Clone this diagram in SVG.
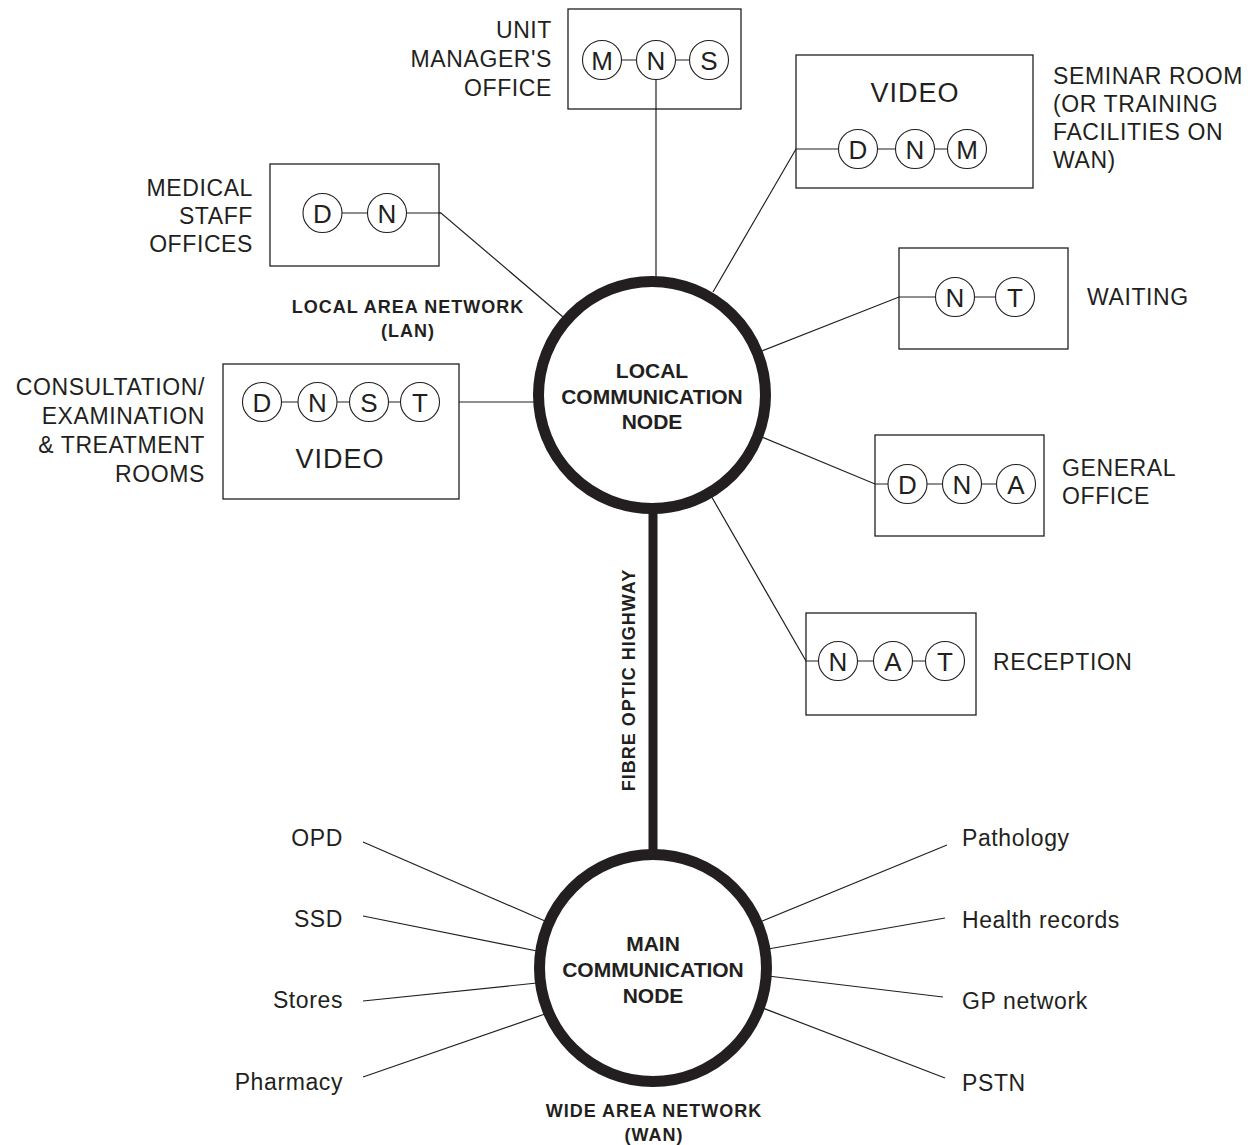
<svg xmlns="http://www.w3.org/2000/svg" width="1255" height="1145" viewBox="0 0 1255 1145">
<style>
text{font-family:"Liberation Sans",Arial,sans-serif;fill:#231f20}
.lbl{font-size:23px;letter-spacing:0.6px}
.r{text-anchor:end}
.m{text-anchor:middle}
.b{font-weight:bold;font-size:18px;letter-spacing:1px;text-anchor:middle}
.nt{font-weight:bold;font-size:21px;text-anchor:middle}
.vid{font-size:27px;letter-spacing:1px;text-anchor:middle}
.box{fill:#fff;stroke:#231f20;stroke-width:1.3}
.dev{fill:#fff;stroke:#231f20;stroke-width:1.1}
.dl{font-size:26px;text-anchor:middle}
.ln{stroke:#231f20;stroke-width:1.2;fill:none}
.hub{fill:#fff;stroke:#231f20;stroke-width:11}
</style>
<rect width="1255" height="1145" fill="#fff"/>
<g id="connectors">
<line class="ln" x1="656" y1="80" x2="656" y2="290"/>
<polyline class="ln" points="839,149 796,149 713,292"/>
<polyline class="ln" points="407,213 441,213 563,317"/>
<polyline class="ln" points="935,297 899,297 762,351"/>
<polyline class="ln" points="888,484 875,484 762,437"/>
<polyline class="ln" points="819,661 806,661 710,494"/>
<line class="ln" x1="440" y1="402" x2="540" y2="402"/>
<line x1="653" y1="500" x2="653" y2="860" stroke="#231f20" stroke-width="9"/>
<line class="ln" x1="363" y1="842" x2="545" y2="921"/>
<line class="ln" x1="363" y1="916" x2="537" y2="951"/>
<line class="ln" x1="363" y1="1001" x2="537" y2="983"/>
<line class="ln" x1="363" y1="1077" x2="545" y2="1014"/>
<line class="ln" x1="947" y1="845" x2="760" y2="922"/>
<line class="ln" x1="945" y1="918" x2="768" y2="949"/>
<line class="ln" x1="943" y1="997" x2="768" y2="976"/>
<line class="ln" x1="945" y1="1078" x2="760" y2="1007"/>
</g>
<g id="unit-manager">
<rect class="box" x="568" y="9" width="173" height="100"/>
<line class="ln" x1="602" y1="60" x2="709" y2="60"/>
<circle class="dev" cx="602" cy="60" r="19.5"/><text class="dl" x="602" y="69.5">M</text>
<circle class="dev" cx="656" cy="60" r="19.5"/><text class="dl" x="656" y="69.5">N</text>
<circle class="dev" cx="709" cy="60" r="19.5"/><text class="dl" x="709" y="69.5">S</text>
<line class="ln" x1="656" y1="79.5" x2="656" y2="110"/>
<text class="lbl r" x="552" y="38">UNIT</text>
<text class="lbl r" x="552" y="67">MANAGER'S</text>
<text class="lbl r" x="552" y="96">OFFICE</text>
</g>
<g id="seminar">
<rect class="box" x="796" y="55" width="237" height="133"/>
<line class="ln" x1="796" y1="149" x2="967" y2="149"/>
<text class="vid" x="915" y="102">VIDEO</text>
<circle class="dev" cx="858" cy="149" r="19.5"/><text class="dl" x="858" y="158.5">D</text>
<circle class="dev" cx="915" cy="149" r="19.5"/><text class="dl" x="915" y="158.5">N</text>
<circle class="dev" cx="967" cy="149" r="19.5"/><text class="dl" x="967" y="158.5">M</text>
<text class="lbl" x="1053" y="84">SEMINAR ROOM</text>
<text class="lbl" x="1053" y="112">(OR TRAINING</text>
<text class="lbl" x="1053" y="140">FACILITIES ON</text>
<text class="lbl" x="1053" y="168">WAN)</text>
</g>
<g id="medical-staff">
<rect class="box" x="270" y="164" width="169" height="102"/>
<line class="ln" x1="322" y1="213" x2="441" y2="213"/>
<circle class="dev" cx="322.5" cy="213" r="19.5"/><text class="dl" x="322.5" y="222.5">D</text>
<circle class="dev" cx="387" cy="213" r="19.5"/><text class="dl" x="387" y="222.5">N</text>
<text class="lbl r" x="253" y="196">MEDICAL</text>
<text class="lbl r" x="253" y="224">STAFF</text>
<text class="lbl r" x="253" y="252">OFFICES</text>
</g>
<g id="waiting">
<rect class="box" x="899" y="248" width="169" height="101"/>
<line class="ln" x1="899" y1="297" x2="1015" y2="297"/>
<circle class="dev" cx="955" cy="297" r="19.5"/><text class="dl" x="955" y="306.5">N</text>
<circle class="dev" cx="1015" cy="297" r="19.5"/><text class="dl" x="1015" y="306.5">T</text>
<text class="lbl" x="1087" y="305">WAITING</text>
</g>
<g id="consultation">
<rect class="box" x="223" y="364" width="236" height="135"/>
<line class="ln" x1="262" y1="402" x2="440" y2="402"/>
<circle class="dev" cx="262" cy="402" r="19.5"/><text class="dl" x="262" y="411.5">D</text>
<circle class="dev" cx="317.5" cy="402" r="19.5"/><text class="dl" x="317.5" y="411.5">N</text>
<circle class="dev" cx="369" cy="402" r="19.5"/><text class="dl" x="369" y="411.5">S</text>
<circle class="dev" cx="420" cy="402" r="19.5"/><text class="dl" x="420" y="411.5">T</text>
<text class="vid" x="340" y="468">VIDEO</text>
<text class="lbl r" x="205" y="395">CONSULTATION/</text>
<text class="lbl r" x="205" y="424">EXAMINATION</text>
<text class="lbl r" x="205" y="453">&amp; TREATMENT</text>
<text class="lbl r" x="205" y="482">ROOMS</text>
</g>
<g id="general-office">
<rect class="box" x="875" y="435" width="169" height="101"/>
<line class="ln" x1="875" y1="484" x2="1016" y2="484"/>
<circle class="dev" cx="907.5" cy="484" r="19.5"/><text class="dl" x="907.5" y="493.5">D</text>
<circle class="dev" cx="962" cy="484" r="19.5"/><text class="dl" x="962" y="493.5">N</text>
<circle class="dev" cx="1016" cy="484" r="19.5"/><text class="dl" x="1016" y="493.5">A</text>
<text class="lbl" x="1062" y="476">GENERAL</text>
<text class="lbl" x="1062" y="504">OFFICE</text>
</g>
<g id="reception">
<rect class="box" x="806" y="613" width="170" height="102"/>
<line class="ln" x1="806" y1="661" x2="945" y2="661"/>
<circle class="dev" cx="838" cy="661" r="19.5"/><text class="dl" x="838" y="670.5">N</text>
<circle class="dev" cx="893" cy="661" r="19.5"/><text class="dl" x="893" y="670.5">A</text>
<circle class="dev" cx="945" cy="661" r="19.5"/><text class="dl" x="945" y="670.5">T</text>
<text class="lbl" x="993" y="670">RECEPTION</text>
</g>
<g id="local-node">
<circle class="hub" cx="652" cy="395" r="113.5"/>
<text class="nt" x="652" y="378">LOCAL</text>
<text class="nt" x="652" y="404">COMMUNICATION</text>
<text class="nt" x="652" y="429">NODE</text>
</g>
<g id="lan-label">
<text class="b" x="408" y="313">LOCAL AREA NETWORK</text>
<text class="b" x="408" y="337">(LAN)</text>
</g>
<g id="fibre-label">
<text class="b" transform="translate(634.5,680) rotate(-90)" x="0" y="0">FIBRE OPTIC HIGHWAY</text>
</g>
<g id="main-node">
<circle class="hub" cx="653" cy="968" r="113.5"/>
<text class="nt" x="653" y="951">MAIN</text>
<text class="nt" x="653" y="977">COMMUNICATION</text>
<text class="nt" x="653" y="1003">NODE</text>
</g>
<g id="wan-label">
<text class="b" x="654" y="1117">WIDE AREA NETWORK</text>
<text class="b" x="654" y="1141">(WAN)</text>
</g>
<g id="wan-endpoints">
<text class="lbl r" x="343" y="846">OPD</text>
<text class="lbl r" x="343" y="927">SSD</text>
<text class="lbl r" x="343" y="1008">Stores</text>
<text class="lbl r" x="343" y="1090">Pharmacy</text>
<text class="lbl" x="962" y="846">Pathology</text>
<text class="lbl" x="962" y="928">Health records</text>
<text class="lbl" x="962" y="1009">GP network</text>
<text class="lbl" x="962" y="1091">PSTN</text>
</g>
</svg>
